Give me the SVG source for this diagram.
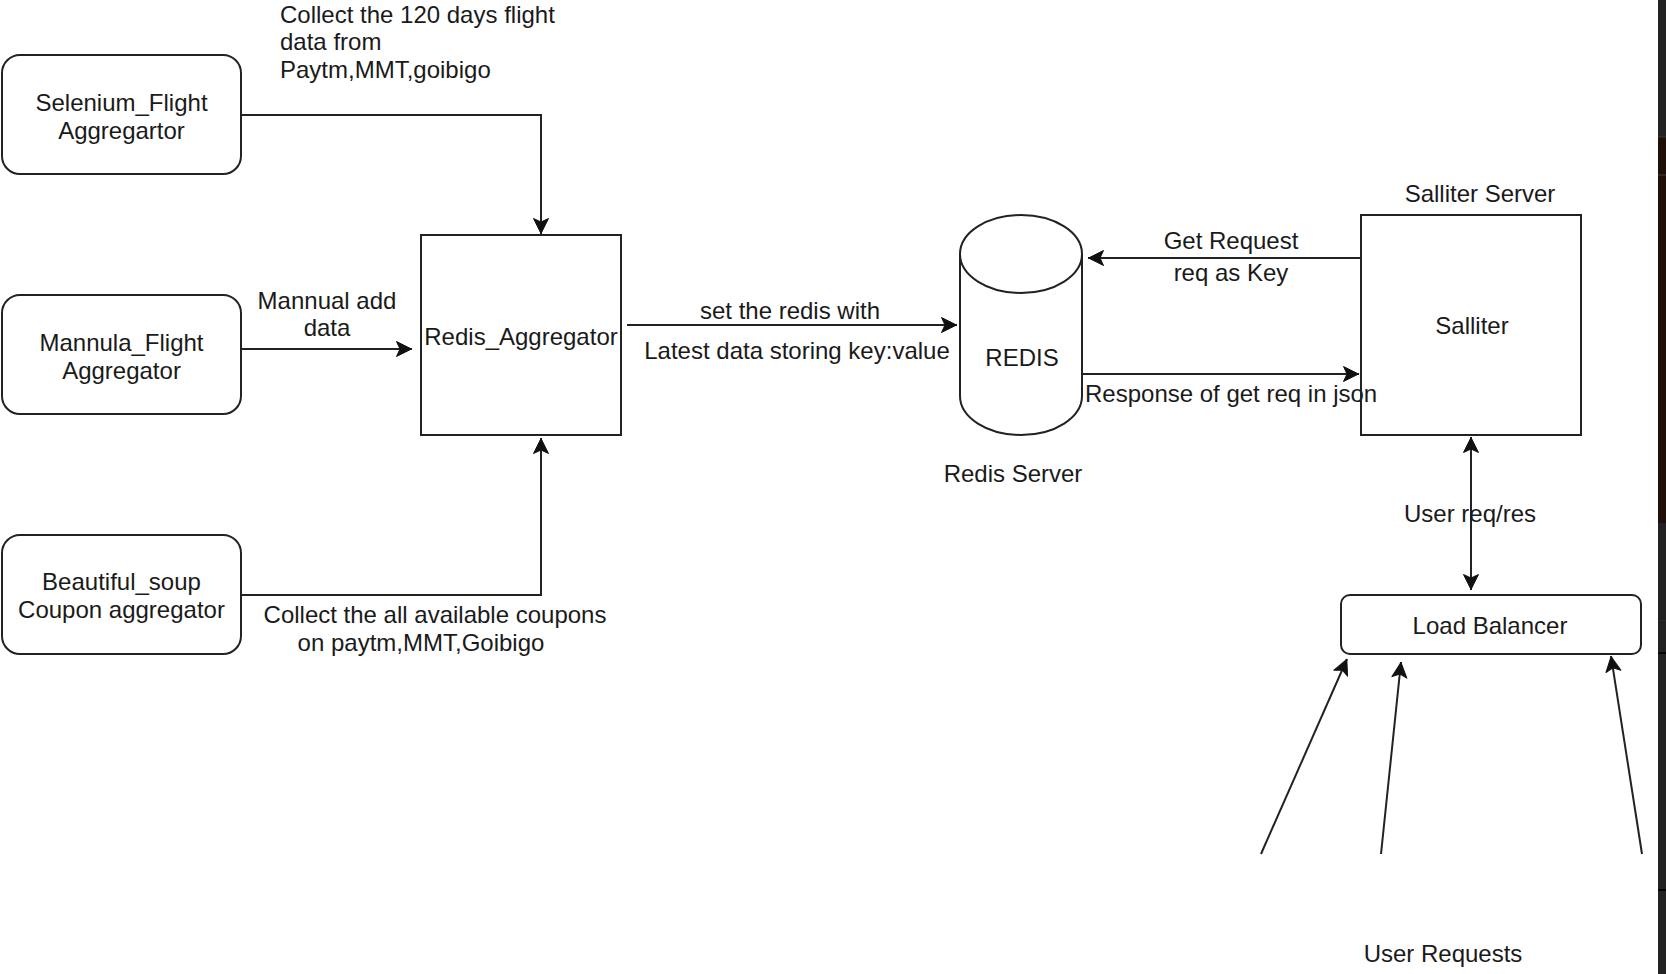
<svg xmlns="http://www.w3.org/2000/svg" width="1666" height="974" viewBox="0 0 1666 974">
  <style>
    .box { fill: #ffffff; stroke: #222222; stroke-width: 2; }
    .edge { fill: none; stroke: #222222; stroke-width: 2; }
    text { font-family: "Liberation Sans", Arial, Helvetica, sans-serif; font-size: 24px; fill: #1a1a1a; }
    .c { text-anchor: middle; }
  </style>
  <defs>
    <marker id="arrow" viewBox="-18 -10 20 20" refX="0" refY="0" markerWidth="20" markerHeight="20" markerUnits="userSpaceOnUse" orient="auto-start-reverse">
      <path d="M-0.5,0 L-15.5,-7.5 L-12,0 L-15.5,7.5 Z" fill="#111111" stroke="#111111" stroke-width="1" stroke-linejoin="round"/>
    </marker>
  </defs>

  <rect x="0" y="0" width="1666" height="974" fill="#ffffff"/>

  <!-- window edge strip on the right -->
  <g id="edge-strip">
    <rect x="1658" y="0" width="8" height="974" fill="#222222"/>
    <rect x="1658" y="138" width="8" height="385" fill="#1e1008"/>
    <rect x="1658" y="136" width="8" height="1" fill="#2e2e2e"/>
    <rect x="1658" y="174" width="8" height="2" fill="#2a2a2a"/>
    <rect x="1658" y="620" width="8" height="1" fill="#2b2b2b"/>
    <rect x="1658" y="652" width="8" height="2" fill="#050505"/>
    <rect x="1658" y="889" width="8" height="2" fill="#050505"/>
  </g>

  <!-- connectors -->
  <g id="connectors">
    <path class="edge" d="M241,115 H541 V234" marker-end="url(#arrow)"/>
    <path class="edge" d="M241,349 H412" marker-end="url(#arrow)"/>
    <path class="edge" d="M241,595 H541 V438" marker-end="url(#arrow)"/>
    <path class="edge" d="M627,325 H957" marker-end="url(#arrow)"/>
    <path class="edge" d="M1360,258 H1088" marker-end="url(#arrow)"/>
    <path class="edge" d="M1082,374 H1359" marker-end="url(#arrow)"/>
    <path class="edge" d="M1471,437 V590" marker-start="url(#arrow)" marker-end="url(#arrow)"/>
    <path class="edge" d="M1261,854 L1347,659" marker-end="url(#arrow)"/>
    <path class="edge" d="M1381,854 L1401,662" marker-end="url(#arrow)"/>
    <path class="edge" d="M1642,854 L1611,656" marker-end="url(#arrow)"/>
  </g>

  <!-- edge labels -->
  <g id="labels">
    <text x="280" y="22.5">Collect the 120 days flight</text>
    <text x="280" y="50">data from</text>
    <text x="280" y="77.5">Paytm,MMT,goibigo</text>
    <text class="c" x="327" y="308.5">Mannual add</text>
    <text class="c" x="327" y="335.5">data</text>
    <text class="c" x="435" y="622.5">Collect the all available coupons</text>
    <text class="c" x="421" y="650.5">on paytm,MMT,Goibigo</text>
    <text class="c" x="790" y="318.5">set the redis with</text>
    <text class="c" x="797" y="358.5">Latest data storing key:value</text>
    <text class="c" x="1231" y="248.5">Get Request</text>
    <text class="c" x="1231" y="280.5">req as Key</text>
    <text x="1085" y="401.5">Response of get req in json</text>
    <text class="c" x="1470" y="521.5">User req/res</text>
    <text class="c" x="1443" y="961.5">User Requests</text>
  </g>

  <g id="selenium">
    <rect class="box" x="2" y="55" width="239" height="119" rx="18" ry="18"/>
    <text class="c" x="121.5" y="110.5">Selenium_Flight</text>
    <text class="c" x="121.5" y="138.5">Aggregartor</text>
  </g>

  <g id="mannula">
    <rect class="box" x="2" y="295" width="239" height="119" rx="18" ry="18"/>
    <text class="c" x="121.5" y="350.5">Mannula_Flight</text>
    <text class="c" x="121.5" y="378.5">Aggregator</text>
  </g>

  <g id="beautiful-soup">
    <rect class="box" x="2" y="535" width="239" height="119" rx="18" ry="18"/>
    <text class="c" x="121.5" y="589.5">Beautiful_soup</text>
    <text class="c" x="121.5" y="617.5">Coupon aggregator</text>
  </g>

  <g id="redis-aggregator">
    <rect class="box" x="421" y="235" width="200" height="200"/>
    <text class="c" x="521" y="344.5">Redis_Aggregator</text>
  </g>

  <g id="redis">
    <path class="box" d="M960,254 A61,39 0 0 1 1082,254 V396 A61,39 0 0 1 960,396 Z"/>
    <path class="edge" d="M960,254 A61,39 0 0 0 1082,254"/>
    <text class="c" x="1022" y="365.5">REDIS</text>
    <text class="c" x="1013" y="481.5">Redis Server</text>
  </g>

  <g id="salliter">
    <text class="c" x="1480" y="201.5">Salliter Server</text>
    <rect class="box" x="1361" y="215" width="220" height="220" fill-opacity="0"/>
    <text class="c" x="1472" y="333.5">Salliter</text>
  </g>

  <g id="load-balancer">
    <rect class="box" x="1341" y="595" width="300" height="59" rx="9" ry="9"/>
    <text class="c" x="1490" y="633.5">Load Balancer</text>
  </g>
</svg>
